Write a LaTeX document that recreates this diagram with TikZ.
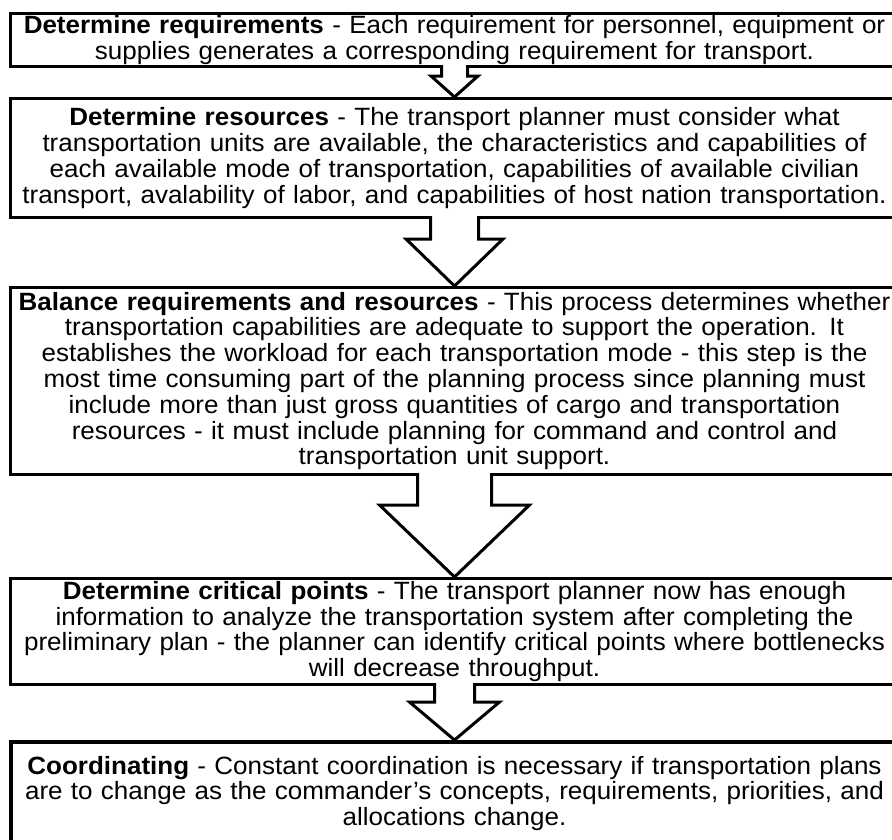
\documentclass[tikz,border=0pt]{standalone}
\usepackage{fontspec}
\setmainfont{Liberation Sans}[FakeStretch=1.04]
\usetikzlibrary{calc, positioning}

% block arrow from the bottom of #1 to the top of #2
% #3 shaft half width, #4 head half width, #5 shaft length
\newcommand{\blockarrow}[5]{%
  \filldraw[arrowbody] ($(#1.south)+(-#3,3)$) -- ++(0,-3-#5) -- ++(#3-#4,0)
    -- (#2.north) -- ($(#1.south)+(#4,-#5)$) -- ++(#3-#4,0) -- ($(#1.south)+(#3,3)$);
}

\begin{document}
\begin{tikzpicture}[
    x=1pt, y=1pt,
    font=\fontsize{25}{25.8}\selectfont,
    stepbox/.style={draw=black, line width=3pt, rectangle, fill=white,
      text width=884pt, align=center, inner xsep=2pt, inner ysep=0pt},
    arrowbody/.style={draw=black, fill=white, line width=3pt, line join=miter}
    ]

    \useasboundingbox (0,0) rectangle (892,-839);
    \clip (0,0) rectangle (892,-839);

    \node[stepbox, minimum height=53pt, anchor=north] (req) at (454.5,-12)
      {\textbf{Determine requirements} - Each requirement for personnel, equipment or\\
       supplies generates a corresponding requirement for transport.};
    \node[stepbox, minimum height=119pt, below=29pt of req] (res)
      {\textbf{Determine resources} - The transport planner must consider what\\
       transportation units are available, the characteristics and capabilities of\\
       each available mode of transportation, capabilities of available civilian\\
       transport, avalability of labor, and capabilities of host nation transportation.};
    \node[stepbox, minimum height=187pt, below=67pt of res] (bal)
      {\textbf{Balance requirements and resources} - This process determines whether\\
       transportation capabilities are adequate to support the operation. It\\
       establishes the workload for each transportation mode - this step is the\\
       most time consuming part of the planning process since planning must\\
       include more than just gross quantities of cargo and transportation\\
       resources - it must include planning for command and control and\\
       transportation unit support.};
    \node[stepbox, minimum height=106pt, below=101pt of bal] (crit)
      {\textbf{Determine critical points} - The transport planner now has enough\\
       information to analyze the transportation system after completing the\\
       preliminary plan - the planner can identify critical points where bottlenecks\\
       will decrease throughput.};
    \node[stepbox, line width=4pt, minimum height=106pt, text height=18pt,
          text depth=60pt, below=54pt of crit] (coord)
      {\textbf{Coordinating} - Constant coordination is necessary if transportation plans\\
       are to change as the commander's concepts, requirements, priorities, and\\
       allocations change.};

    \blockarrow{req}{res}{13}{23.5}{8}
    \blockarrow{res}{bal}{24}{48.5}{20}
    \blockarrow{bal}{crit}{37}{75}{29}
    \blockarrow{crit}{coord}{20}{45}{16}

\end{tikzpicture}
\end{document}
